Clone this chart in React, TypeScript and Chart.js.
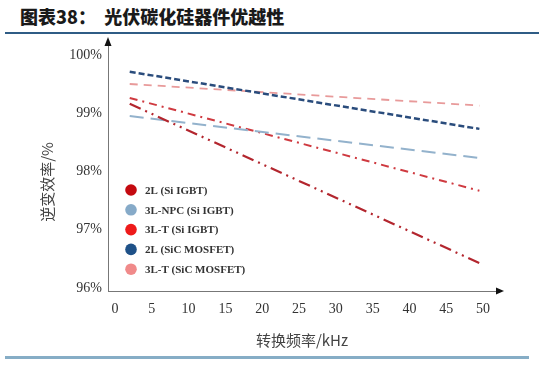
import React, { useEffect, useRef } from "react";
import { Chart, registerables } from "chart.js";

Chart.register(...registerables);

const titleText = "图表38：  光伏碳化硅器件优越性";
const xAxisTitle = "转换频率/kHz";
const yAxisTitle = "逆变效率/%";

const xTicks = [0, 5, 10, 15, 20, 25, 30, 35, 40, 45, 50];
const yTicks = [96, 97, 98, 99, 100];

const freq = [2, 49.5];
const seriesNames = [
  "2L (Si IGBT)",
  "3L-NPC (Si IGBT)",
  "3L-T (Si IGBT)",
  "2L (SiC MOSFET)",
  "3L-T (SiC MOSFET)",
];
const s2LSi = [99.16, 96.43];
const s3LNPCSi = [98.95, 98.23];
const s3LTSi = [99.26, 97.67];
const s2LSiC = [99.71, 98.73];
const s3LTSiC = [99.5, 99.13];

const lineColors = ["#b3262e", "#93b2cc", "#cf3a40", "#2a4c7c", "#e89a9a"];
const legendColors = ["#c40a10", "#86aac8", "#ee1a1a", "#1f5188", "#f08a8a"];
const dashes = [
  [12, 5, 2, 5, 2, 5],
  [14, 7],
  [8, 5, 2, 5],
  [6, 3],
  [8, 6],
];
const widths = [2.2, 2, 2, 2.5, 1.8];

export default function App() {
  const ref = useRef<HTMLCanvasElement | null>(null);

  useEffect(() => {
    if (!ref.current) return;
    const allSeries = [s2LSi, s3LNPCSi, s3LTSi, s2LSiC, s3LTSiC];
    const datasets = allSeries.map((s, i) => ({
      label: seriesNames[i],
      data: s.map((v, j) => ({ x: freq[j], y: v })),
      borderColor: lineColors[i],
      backgroundColor: legendColors[i],
      borderWidth: widths[i],
      borderDash: dashes[i],
      pointRadius: 0,
      fill: false,
      tension: 0,
    }));

    const decor = {
      id: "decor",
      afterDraw(chart: any) {
        const ctx = chart.ctx;
        const ca = chart.chartArea;
        ctx.save();
        // arrows
        ctx.fillStyle = "#111";
        ctx.beginPath();
        ctx.moveTo(ca.left, ca.top - 5);
        ctx.lineTo(ca.left - 3.5, ca.top + 4);
        ctx.lineTo(ca.left + 3.5, ca.top + 4);
        ctx.closePath();
        ctx.fill();
        ctx.beginPath();
        ctx.moveTo(ca.right + 4, ca.bottom);
        ctx.lineTo(ca.right - 4, ca.bottom - 3.5);
        ctx.lineTo(ca.right - 4, ca.bottom + 3.5);
        ctx.closePath();
        ctx.fill();
        // axis titles
        ctx.fillStyle = "#444";
        ctx.font = "15px 'Noto Sans CJK SC', serif";
        ctx.textAlign = "center";
        ctx.textBaseline = "middle";
        ctx.fillText(xAxisTitle, 302, 340);
        ctx.translate(47, 182);
        ctx.rotate(-Math.PI / 2);
        ctx.fillText(yAxisTitle, 0, 0);
        ctx.restore();
        // legend
        ctx.save();
        ctx.font = "bold 11px 'Liberation Serif', serif";
        ctx.textAlign = "left";
        ctx.textBaseline = "middle";
        seriesNames.forEach((name, i) => {
          const y = 190 + i * 19.8;
          ctx.fillStyle = legendColors[i];
          ctx.beginPath();
          ctx.arc(131, y, 5.8, 0, Math.PI * 2);
          ctx.fill();
          ctx.fillStyle = "#333";
          ctx.fillText(name, 145, y + 1);
        });
        ctx.restore();
      },
    };

    const chart = new Chart(ref.current, {
      type: "line",
      data: { datasets },
      plugins: [decor],
      options: {
        animation: false,
        responsive: false,
        maintainAspectRatio: false,
        layout: { padding: { top: 42, right: 39, left: 0, bottom: 0 } },
        plugins: { legend: { display: false }, tooltip: { enabled: false } },
        scales: {
          x: {
            type: "linear",
            min: -0.95,
            max: 52.3,
            afterFit: (s: any) => {
              s.height = 76;
            },
            afterBuildTicks: (s: any) => {
              s.ticks = xTicks.map((v) => ({ value: v }));
            },
            grid: { display: false, drawTicks: false },
            border: { display: true, color: "#777", width: 1 },
            ticks: {
              padding: 10,
              color: "#333",
              font: { family: "'Liberation Serif', serif", size: 14 },
              maxRotation: 0,
              autoSkip: false,
            },
          },
          y: {
            type: "linear",
            min: 95.95,
            max: 100.22,
            afterFit: (s: any) => {
              s.width = 108;
            },
            afterBuildTicks: (s: any) => {
              s.ticks = yTicks.map((v) => ({ value: v }));
            },
            grid: { display: false, drawTicks: false },
            border: { display: true, color: "#777", width: 1 },
            ticks: {
              padding: 6,
              color: "#333",
              font: { family: "'Liberation Serif', serif", size: 14 },
              callback: (v: any) => v + "%",
            },
          },
        },
      },
    });
    return () => chart.destroy();
  }, []);

  return (
    <div style={{ position: "absolute", left: 0, top: 0, width: 539, height: 367, background: "#fff", overflow: "hidden" }}>
      <div
        style={{
          position: "absolute",
          left: 20,
          top: 3,
          fontFamily: "'Noto Sans CJK SC', sans-serif",
          fontWeight: 900,
          fontSize: 18,
          color: "#1a1a1a",
          whiteSpace: "pre",
          lineHeight: "26px",
        }}
      >
        {titleText}
      </div>
      <div style={{ position: "absolute", left: 5, top: 32, width: 534, height: 2, background: "#2f5c85" }} />
      <div style={{ position: "absolute", left: 5, top: 356, width: 524, height: 3, background: "#86adc6" }} />
      <canvas ref={ref} width={539} height={367} style={{ position: "absolute", left: 0, top: 0, width: 539, height: 367 }} />
    </div>
  );
}
